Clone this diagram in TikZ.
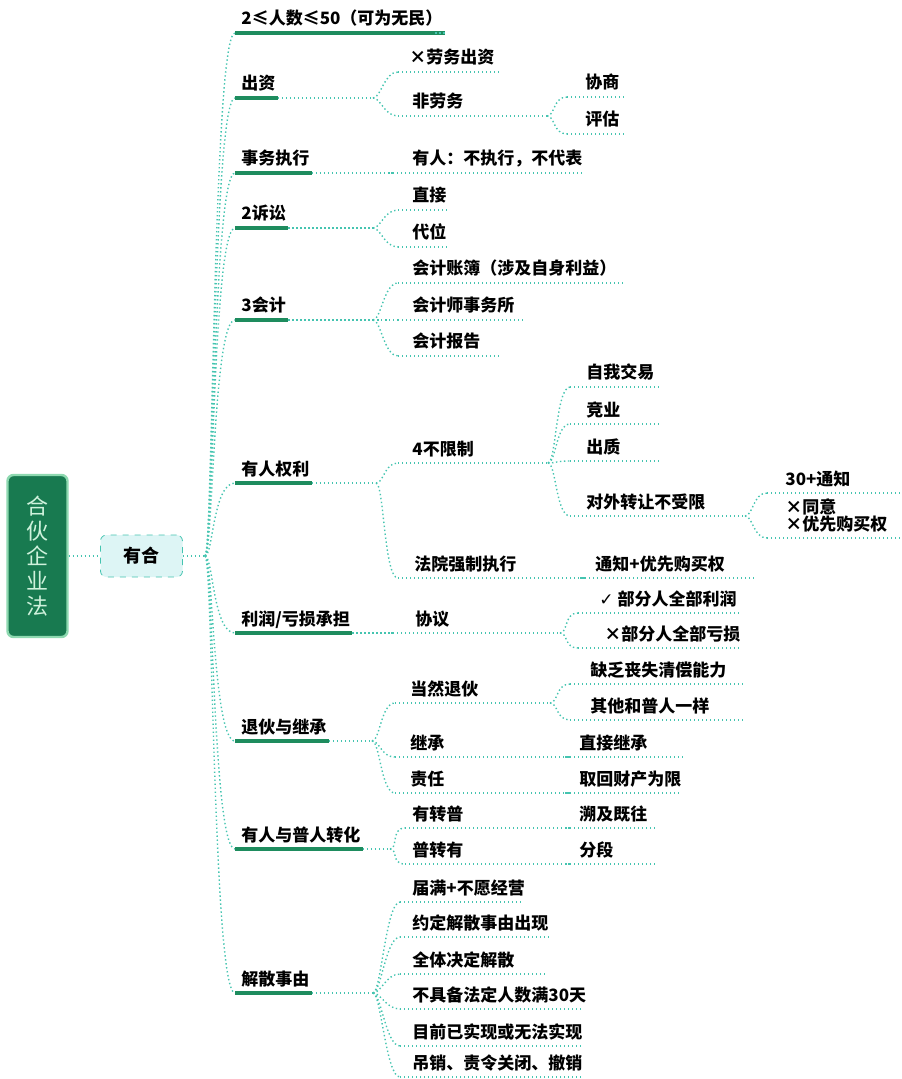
\documentclass[tikz,border=0pt]{standalone}
\usepackage{fontspec}
\setmainfont{Noto Sans CJK SC}
\newfontfamily\symf{DejaVu Sans}
\usepackage{xcolor}
\usepackage{tikz}
\usetikzlibrary{positioning}
\usetikzlibrary{calc}

\definecolor{dotc}{HTML}{45C4B0}
\definecolor{barc}{HTML}{1E8C5E}
\definecolor{rootc}{HTML}{187A50}
\definecolor{rootline}{HTML}{8ED9B0}
\definecolor{roottext}{HTML}{CFF2DC}
\definecolor{hubfill}{HTML}{DDF5F5}

\tikzstyle{rootbox}=[rectangle,rounded corners=3pt,fill=rootc,draw=rootline,line width=1.2pt,minimum width=30pt,minimum height=81pt,text=roottext,align=center,inner sep=0pt,font=\fontsize{11}{12.5}\selectfont]
\tikzstyle{hubbox}=[rectangle,rounded corners=3pt,fill=hubfill,draw=dotc,dashed,minimum width=41pt,minimum height=21pt,font=\bfseries\fontsize{9}{9}\selectfont]
\tikzstyle{item}=[anchor=base west,inner xsep=1pt,inner ysep=0pt,font=\bfseries\fontsize{8.5}{8.5}\selectfont]
\tikzset{link/.style={dotc,line width=0.7pt,dash pattern=on 0.7pt off 1.3pt}}
\tikzset{bar/.style={barc,line width=1.6pt}}

\begin{document}
\begin{tikzpicture}[x=0.5pt,y=-0.5pt]
  \useasboundingbox (0,0) rectangle (901,1079);

  \node[rootbox] (law) at (37.5,556) {合\\伙\\企\\业\\法};
  \node[hubbox] (youhe) at (141.5,556) {有合};
  \coordinate (hub) at (205,556);
  \draw[link] (law) -- (youhe);
  \draw[link] (youhe) -- (hub);

  % first level: green bar under the text
  \foreach \name/\y/\xe/\label in {b1/33/435/{2≤人数≤50（可为无民）}, b2/98/373/出资,
      b3/173/393/事务执行, b4/228/373/2诉讼, b5/320/373/3会计, b6/483/376/有人权利,
      b7/633/393/{利润/亏损承担}, b8/741/372/退伙与继承, b9/849/390/有人与普人转化,
      b10/993/373/解散事由}
  {
    \coordinate (s\name) at (235,\y);
    \coordinate (e\name) at (\xe,\y);
    \node[item] (\name) at (239,\y-8) {\label};
    \draw[link] (hub) .. controls (213,556) and (213,\y) .. (s\name);
    \draw[bar] (s\name) -- (s\name -| \name.east);
    \draw[link] (s\name -| \name.east) -- (e\name);
  }

  % deeper levels: dotted line under the text
  \foreach \up/\name/\y/\xs/\xe/\tx/\label in {
      b2/c21/72/398/500/407/×劳务出资, b2/c22/116/398/547/410/非劳务,
      b3/c31/173/393/583/410/有人：不执行，不代表,
      b4/c41/210/398/448/410/直接, b4/c42/247/398/448/410/代位,
      b5/c51/283/398/625/410/会计账簿（涉及自身利益）, b5/c52/320/398/523/410/会计师事务所,
      b5/c53/356/398/500/410/会计报告,
      b6/c61/463/398/548/410/4不限制, b6/c62/578/398/585/412/法院强制执行,
      b7/c71/633/393/560/413/协议,
      b8/c81/703/395/550/408/当然退伙, b8/c82/757/395/570/408/继承, b8/c83/793/395/570/408/责任,
      b9/c91/828/405/570/410/有转普, b9/c92/864/405/570/410/普转有,
      b10/c101/902/400/523/410/届满+不愿经营, b10/c102/937/400/550/410/约定解散事由出现,
      b10/c103/974/400/547/410/全体决定解散, b10/c104/1009/400/582/410/不具备法定人数满30天,
      b10/c105/1046/400/582/410/目前已实现或无法实现, b10/c106/1077/400/582/410/吊销、责令关闭、撤销,
      c22/d221/97/567/625/583/协商, c22/d222/134/567/625/583/评估,
      c61/d611/387/570/660/584/自我交易, c61/d612/424/570/660/584/竞业,
      c61/d613/461/570/660/584/出质, c61/d614/516/570/745/584/对外转让不受限,
      c62/d621/578/585/755/593/通知+优先购买权,
      c71/d711/613/578/740/597/{{\symf ✓} 部分人全部利润}, c71/d712/648/578/740/602/×部分人全部亏损,
      c81/d811/684/570/745/588/缺乏丧失清偿能力, c81/d812/720/570/745/588/其他和普人一样,
      c82/d821/757/570/683/577/直接继承, c83/d831/793/570/680/577/取回财产为限,
      c91/d911/828/570/655/577/溯及既往, c92/d921/864/570/655/577/分段,
      d614/f1/493/767/900/783/30+通知}
  {
    \coordinate (s\name) at (\xs,\y);
    \coordinate (e\name) at (\xe,\y);
    \node[item] (\name) at (\tx,\y-8) {\label};
    \draw[link] (e\up) .. controls +(8,0) and +(-14,0) .. (s\name);
    \draw[link] (s\name) -- (e\name);
  }

  \coordinate (sf2) at (767,538);
  \coordinate (ef2) at (900,538);
  \node[item,anchor=south west,align=left] (f2) at (783,533) {×同意\\×优先购买权};
  \draw[link] (ed614) .. controls +(8,0) and +(-14,0) .. (sf2);
  \draw[link] (sf2) -- (ef2);

\end{tikzpicture}
\end{document}
